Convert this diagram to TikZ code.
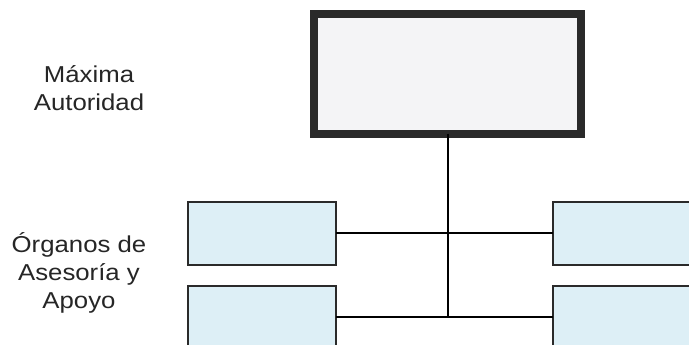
\documentclass[tikz,border=0pt]{standalone}
\usepackage{fontspec}
\newfontfamily\lab[FakeStretch=1.12]{Liberation Sans}
\definecolor{boxblue}{HTML}{DDEFF6}
\definecolor{topfill}{HTML}{F4F4F6}
\definecolor{edge}{HTML}{2A2A2A}
\tikzset{
  x=1pt, y=-1pt,
  topbox/.style={draw=edge, line width=8pt, fill=topfill, rectangle, minimum width=267pt, minimum height=120pt, inner sep=0pt, outer sep=0pt},
  unitbox/.style={draw=edge, line width=2pt, fill=boxblue, rectangle, minimum width=148pt, minimum height=63pt, inner sep=0pt, outer sep=0pt},
  conn/.style={draw=black, line width=2pt},
  label/.style={align=center, font=\lab\fontsize{23}{28}\selectfont, text=black!85}
}
\begin{document}
\begin{tikzpicture}
\useasboundingbox (0,0) rectangle (689,345);
\clip (0,0) rectangle (689,345);
\fill[white] (0,0) rectangle (689,345);
\node[topbox] (top) at (447.5,74) {};
\node[unitbox] (l1) at (262,233) {};
\node[unitbox] (l2) at (262,317) {};
\node[unitbox] (r1) at (627,233) {};
\node[unitbox] (r2) at (627,317) {};
\draw[conn] (l1.east) -- (r1.west);
\draw[conn] (l2.east) -- (r2.west);
\draw[conn] (top.south) -- (top.south |- l2.east);
\node[label] (max) at (89,88) {Máxima\\Autoridad};
\node[label] (org) at (79,273) {Órganos de\\Asesoría y\\Apoyo};
\end{tikzpicture}
\end{document}
